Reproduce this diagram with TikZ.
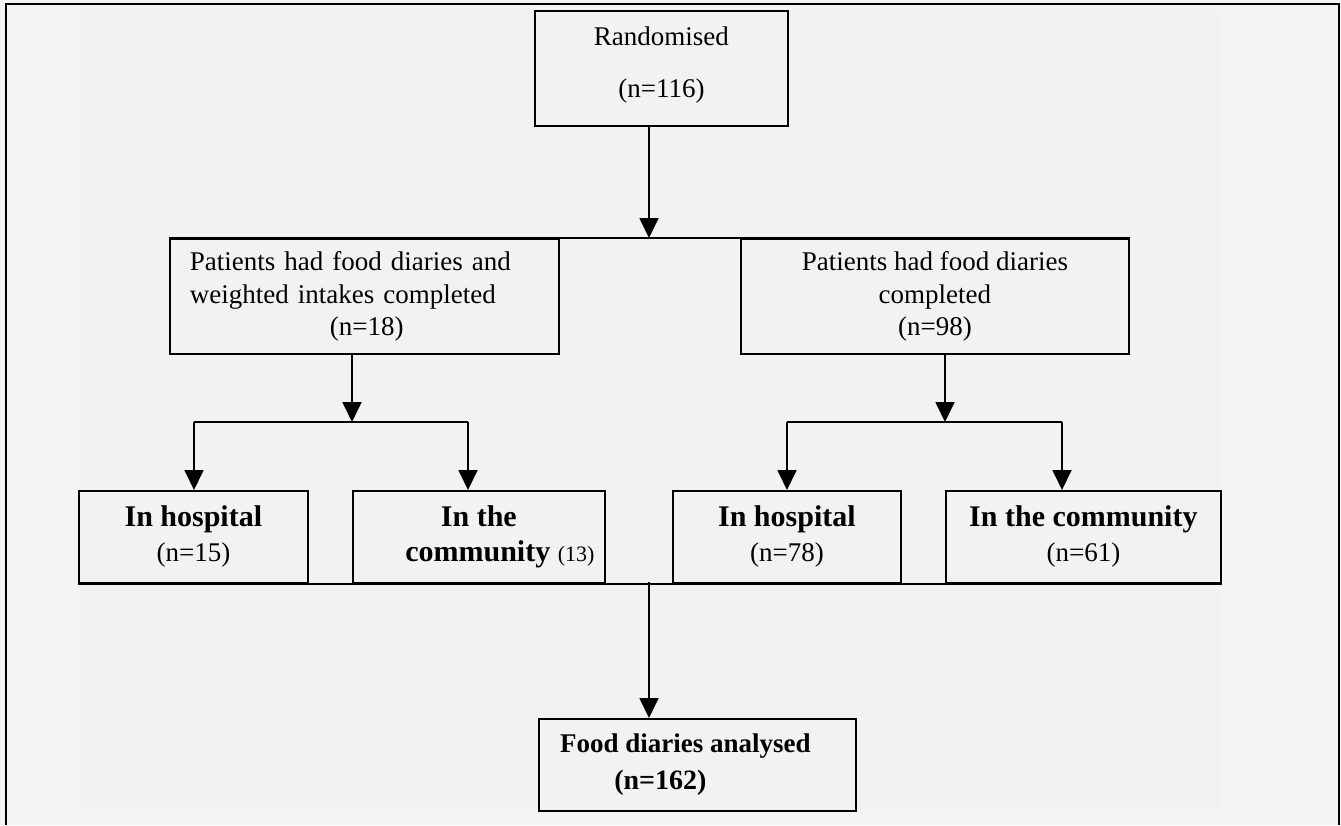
\documentclass[tikz,border=0pt]{standalone}
\usepackage{fontspec}
\setmainfont{Liberation Serif}
\usetikzlibrary{arrows.meta}
\definecolor{outerbg}{HTML}{F4F4F4}
\definecolor{innerbg}{HTML}{F2F2F2}
\begin{document}
\begin{tikzpicture}[x=1pt,y=-1pt,
  box/.style={draw=black,line width=1.8pt,inner sep=0pt,anchor=north west,align=center},
  conn/.style={line width=1.8pt,-{Triangle[length=20pt,width=19pt]}},
  wire/.style={line width=1.8pt},
  reg/.style={font=\fontsize{27}{32.5}\selectfont},
  bld/.style={font=\fontsize{30}{35}\selectfont}]
\useasboundingbox (0,0) rectangle (1341,825);
\fill[outerbg] (0,0) rectangle (1341,825);
\fill[innerbg] (78,10) rectangle (1220,810);
\draw[line width=2pt] (6,825) -- (6,4) -- (1339,4) -- (1339,825);

\node[box,reg,minimum width=253pt,minimum height=115pt,text depth=13pt] (r) at (534,10) {Randomised\\[20pt](n=116)};
\node[box,reg,minimum width=389pt,minimum height=115pt,text width=349pt,align=left] (lb) at (169,238)
  {Patients had food diaries and\\weighted intakes completed\\\hspace*{140pt}(n=18)};
\node[box,reg,minimum width=388pt,minimum height=115pt] (rb) at (740,238)
  {Patients had food diaries\\completed\\(n=98)};

\node[box,bld,minimum width=229pt,minimum height=92pt] (h1) at (78,490)
  {\textbf{In hospital}\\{\fontsize{27}{35}\selectfont(n=15)}};
\node[box,bld,minimum width=252pt,minimum height=92pt] (c1) at (352,490)
  {\textbf{In the}\\\hspace*{42pt}\textbf{community} {\fontsize{22}{26}\selectfont(13)}};
\node[box,bld,minimum width=228pt,minimum height=92pt] (h2) at (672,490)
  {\textbf{In hospital}\\{\fontsize{27}{35}\selectfont(n=78)}};
\node[box,bld,minimum width=275pt,minimum height=92pt] (c2) at (945,490)
  {\textbf{In the community}\\{\fontsize{27}{35}\selectfont(n=61)}};
\node[box,font=\fontsize{28}{37}\selectfont\bfseries,minimum width=317pt,minimum height=92pt] (fd) at (538,718)
  {{\fontsize{27}{37}\selectfont Food diaries analysed}\hspace*{24pt}\\(n=162)\hspace*{74pt}};

% top split
\coordinate (t0) at (649,238);
\draw[wire] (lb.north west) -- (rb.north east);
\draw[conn] (r.south -| t0) -- (t0);

% left branch
\coordinate (j1) at (352,422);
\coordinate (a1) at (194,422);
\coordinate (a2) at (468,422);
\draw[conn] (lb.south -| j1) -- (j1);
\draw[wire] (a1) -- (a2);
\draw[conn] (a1) -- (a1 |- h1.north);
\draw[conn] (a2) -- (a2 |- c1.north);

% right branch
\coordinate (j2) at (945,422);
\coordinate (b1) at (787,422);
\coordinate (b2) at (1062,422);
\draw[conn] (rb.south -| j2) -- (j2);
\draw[wire] (b1) -- (b2);
\draw[conn] (b1) -- (b1 |- h2.north);
\draw[conn] (b2) -- (b2 |- c2.north);

% merge
\draw[line width=2.6pt] (h1.south west) -- (c2.south east);
\coordinate (j3) at (649,582);
\draw[conn] (j3) -- (j3 |- fd.north);
\end{tikzpicture}
\end{document}
